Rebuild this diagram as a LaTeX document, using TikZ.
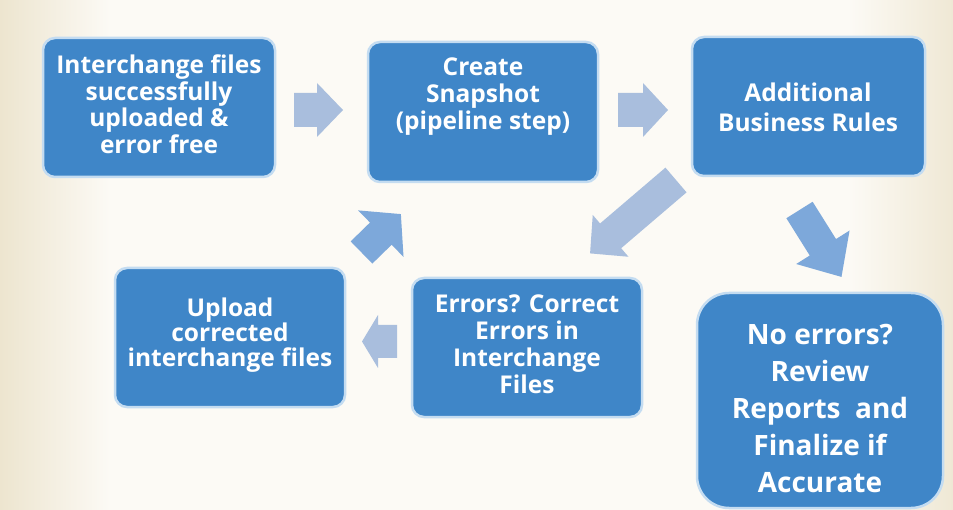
\documentclass[tikz,border=0pt]{standalone}
\usepackage{fontspec}
\setmainfont{Open Sans}

\definecolor{paper}{HTML}{FCFAF5}
\definecolor{paperedge}{HTML}{EDE5CF}
\definecolor{boxblue}{HTML}{3F86C8}
\definecolor{boxrim}{HTML}{C4DCF1}
\definecolor{arrowpale}{HTML}{A9BEDD}
\definecolor{arrowblue}{HTML}{7DA8DA}

% block arrow: base centre (#1,#2), angle #3, length #4, shaft width #5,
% head width #6, head length #7, colour #8
\newcommand\flowarrow[8]{%
  \begin{scope}[shift={(#1,#2)}, rotate=#3]
    \fill[#8] (0,-#5/2) -- (#4-#7,-#5/2) -- (#4-#7,-#6/2) -- (#4,0)
      -- (#4-#7,#6/2) -- (#4-#7,#5/2) -- (0,#5/2) -- cycle;
  \end{scope}}

\tikzset{
  stepbox/.style={draw=boxrim, line width=2.5pt, fill=boxblue,
    rounded corners=12pt, inner sep=0pt, rectangle},
  steptext/.style={text=white, align=center, font=\bfseries\fontsize{24.5}{26.5}\selectfont},
}

\begin{document}
\begin{tikzpicture}[x=1pt, y=-1pt]
  \useasboundingbox (0,0) rectangle (953,510);
  % paper background with warm edges
  \fill[paper] (0,0) rectangle (953,510);
  \shade[left color=paperedge, right color=paper] (0,0) rectangle (110,510);
  \shade[left color=paper, right color=paperedge!85!paper] (850,0) rectangle (953,510);

  % process boxes
  \node[stepbox, minimum width=232pt, minimum height=139pt] (b1) at (159,107.5) {};
  \node[stepbox, minimum width=230pt, minimum height=140pt] (b2) at (483,112) {};
  \node[stepbox, minimum width=233pt, minimum height=139pt] (b3) at (808.5,106.5) {};
  \node[stepbox, minimum width=230pt, minimum height=139pt] (b4) at (230,337.5) {};
  \node[stepbox, minimum width=230pt, minimum height=139pt] (b5) at (527,347.5) {};
  \node[stepbox, rounded corners=32pt, minimum width=246pt, minimum height=215pt] (b6) at (820,400.5) {};

  % box texts
  \node[steptext] (t1) at (159,104) {Interchange files\\successfully\\uploaded \&\\error free};
  \node[steptext, font=\bfseries\fontsize{24.5}{27}\selectfont] (t2) at (483,97) {Create\\Snapshot\\(pipeline step)};
  \node[steptext, font=\bfseries\fontsize{24.5}{30}\selectfont] (t3) at (808,107) {Additional\\Business Rules};
  \node[steptext, font=\bfseries\fontsize{24.5}{25}\selectfont] (t4) at (230,335) {Upload\\corrected\\interchange files};
  \node[steptext, font=\bfseries\fontsize{24.5}{27}\selectfont] (t5) at (527,344) {Errors? Correct\\Errors in\\Interchange\\Files};
  \node[steptext, font=\bfseries\fontsize{28}{37}\selectfont] (t6) at (820,408) {No errors?\\Review\\Reports\ \ and\\Finalize if\\Accurate};

  % flow arrows
  \flowarrow{294}{110}{0}{49}{34}{54}{26}{arrowpale}
  \flowarrow{618}{110}{0}{50}{34}{54}{25}{arrowpale}
  \flowarrow{676}{180}{220.5}{113}{32.5}{55}{27}{arrowpale}
  \flowarrow{799.5}{210}{-57.9}{79}{31}{63}{35}{arrowblue}
  \flowarrow{397}{341.5}{180}{35}{33}{53}{16}{arrowpale}
  \flowarrow{361.5}{252.5}{44.3}{55}{31}{65}{28}{arrowblue}
\end{tikzpicture}
\end{document}
